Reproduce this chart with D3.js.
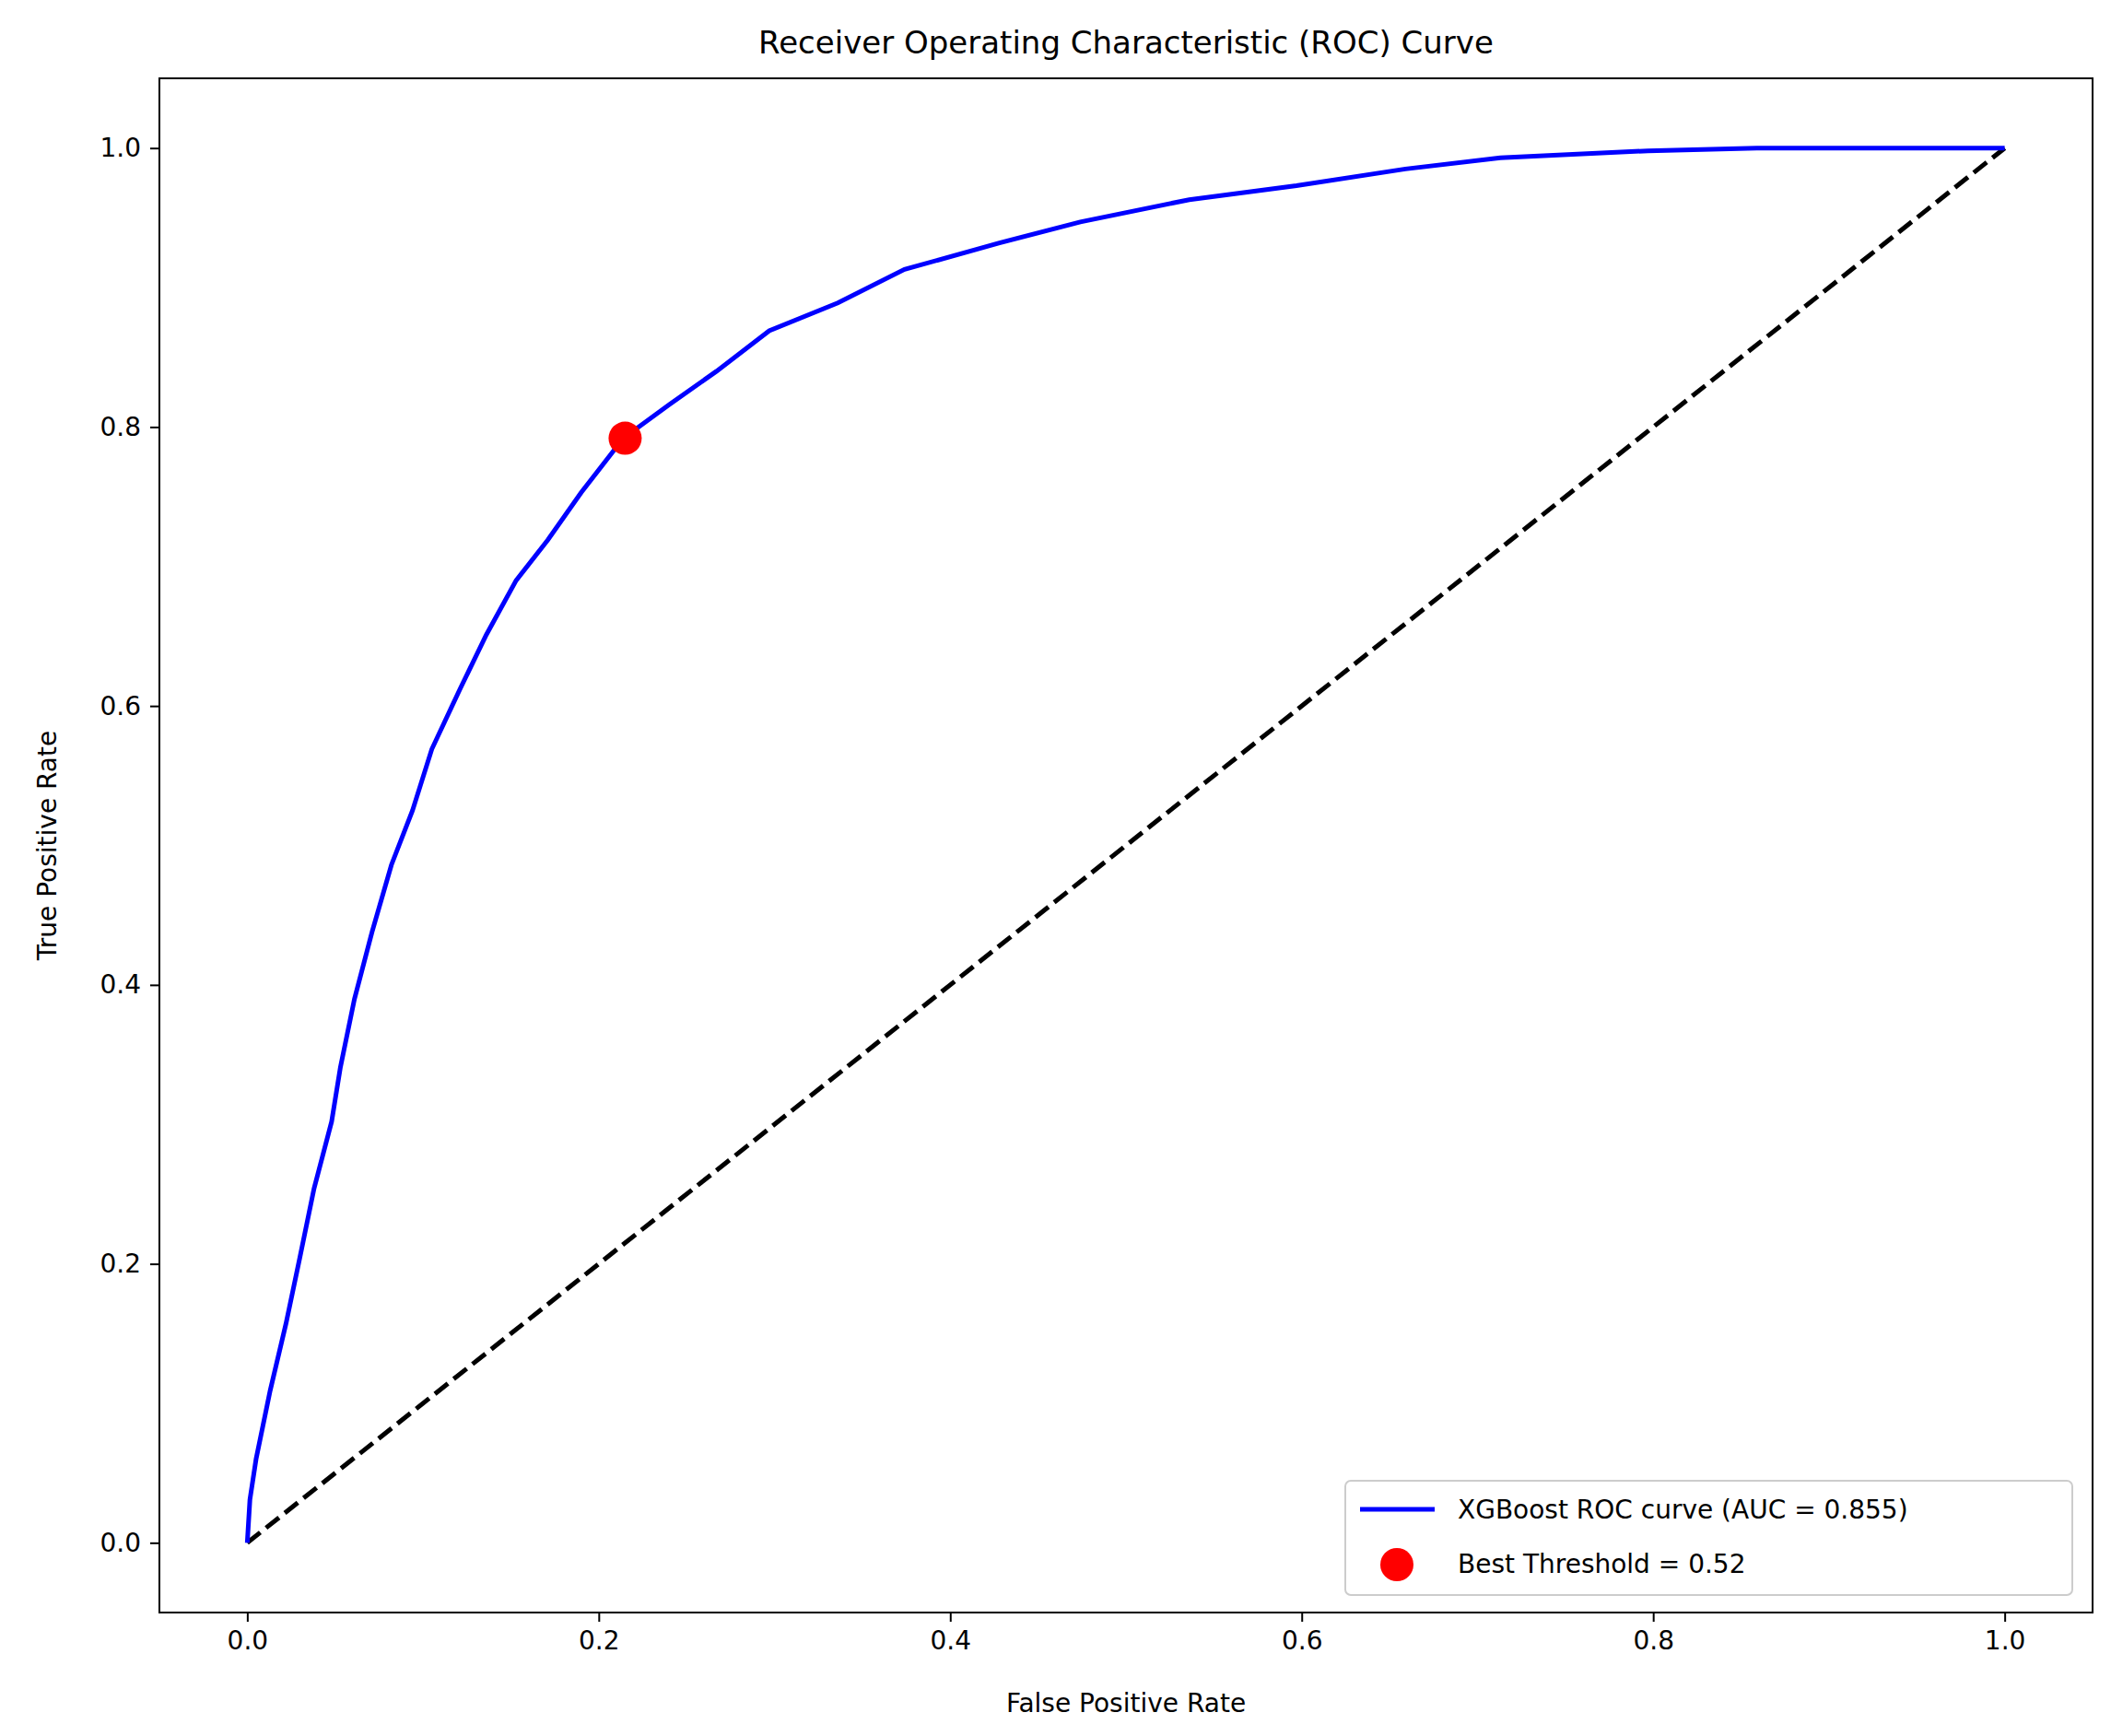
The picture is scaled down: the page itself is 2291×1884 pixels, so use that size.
<!DOCTYPE html>
<html><head><meta charset="utf-8">
<script src="https://cdn.jsdelivr.net/npm/d3@7"></script>
<style>body{margin:0;background:#fff}text{font-family:"DejaVu Sans",sans-serif;fill:#000}</style>
</head><body><svg id="c" width="2291" height="1884"></svg>
<script>
const fpr=[0,.0015,.005,.013,.022,.03,.038,.048,.053,.061,.071,.082,.094,.105,.121,.136,.153,.171,.19,.214,.24,.267,.297,.336,.374,.428,.474,.536,.597,.659,.713,.797,.859,1];
const tpr=[0,.031,.06,.109,.157,.205,.254,.302,.341,.39,.438,.486,.525,.569,.612,.651,.69,.719,.753,.792,.816,.84,.869,.889,.913,.932,.947,.963,.973,.985,.993,.998,1,1];
const best=[0.215,0.792];
const ticks=[0,0.2,0.4,0.6,0.8,1.0];
const svg=d3.select("#c");
const L=173,R=2271,T=85,B=1750;
const x=d3.scaleLinear([-0.05,1.05],[L,R]);
const y=d3.scaleLinear([-0.05,1.05],[B,T]);
const fs=28;
const xa=svg.append("g").attr("transform",`translate(0,${B})`).call(d3.axisBottom(x).tickValues(ticks).tickFormat(d3.format(".1f")).tickSize(10).tickPadding(10));
const ya=svg.append("g").attr("transform",`translate(${L},0)`).call(d3.axisLeft(y).tickValues(ticks).tickFormat(d3.format(".1f")).tickSize(10).tickPadding(10));
[xa,ya].forEach(a=>{a.select(".domain").remove();a.selectAll("line").attr("stroke","#000").attr("stroke-width",2);a.selectAll("text").attr("font-size",fs).attr("font-family","DejaVu Sans");});
const clip=svg.append("g");
clip.append("path").datum([[0,0],[1,1]]).attr("d",d3.line(d=>x(d[0]),d=>y(d[1]))).attr("fill","none").attr("stroke","#000").attr("stroke-width",5).attr("stroke-dasharray","18,8");
clip.append("path").datum(fpr.map((f,i)=>[f,tpr[i]])).attr("d",d3.line(d=>x(d[0]),d=>y(d[1]))).attr("fill","none").attr("stroke","#0000ff").attr("stroke-width",5);
clip.append("circle").attr("cx",x(best[0])).attr("cy",y(best[1])).attr("r",18).attr("fill","#ff0000");
svg.append("rect").attr("x",L).attr("y",T).attr("width",R-L).attr("height",B-T).attr("fill","none").attr("stroke","#000").attr("stroke-width",2);
svg.append("text").attr("x",(L+R)/2).attr("y",58).attr("text-anchor","middle").attr("font-size",34).text("Receiver Operating Characteristic (ROC) Curve");
svg.append("text").attr("x",(L+R)/2).attr("y",1858).attr("text-anchor","middle").attr("font-size",fs).text("False Positive Rate");
svg.append("text").attr("transform",`translate(61,${(T+B)/2}) rotate(-90)`).attr("text-anchor","middle").attr("font-size",fs).text("True Positive Rate");
const lg=svg.append("g");
lg.append("rect").attr("x",1460).attr("y",1607).attr("width",789).attr("height",124).attr("rx",6).attr("fill","#fff").attr("fill-opacity",0.8).attr("stroke","#ccc").attr("stroke-width",2);
lg.append("line").attr("x1",1476).attr("x2",1557).attr("y1",1638).attr("y2",1638).attr("stroke","#0000ff").attr("stroke-width",5);
lg.append("circle").attr("cx",1516).attr("cy",1698).attr("r",18).attr("fill","#ff0000");
lg.append("text").attr("x",1582).attr("y",1648).attr("font-size",fs).text("XGBoost ROC curve (AUC = 0.855)");
lg.append("text").attr("x",1582).attr("y",1707).attr("font-size",fs).text("Best Threshold = 0.52");
</script></body></html>
